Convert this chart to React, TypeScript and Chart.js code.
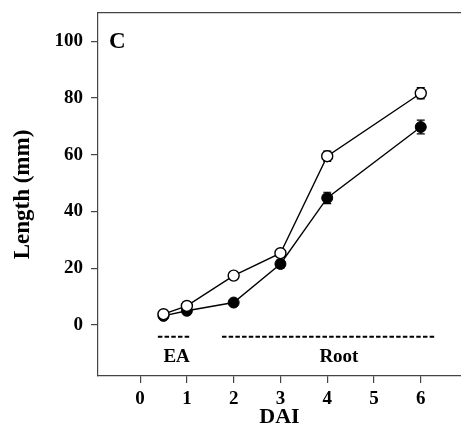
import React, { useEffect, useRef } from "react";
import { Chart, registerables } from "chart.js";

Chart.register(...registerables);

const dai = [0.5, 1, 2, 3, 4, 6];
const openLength = [3.8, 6.7, 17.4, 25.3, 59.5, 81.7];
const openErr = [0.5, 0.6, 0.7, 1.0, 1.8, 2.0];
const filledLength = [3.2, 5.0, 7.9, 21.5, 44.8, 69.8];
const filledErr = [0.4, 0.6, 0.8, 1.5, 2.0, 2.4];
const yTicks = [0, 20, 40, 60, 80, 100];
const xTicks = [0, 1, 2, 3, 4, 5, 6];
const eaRange = [0.38, 1.08];
const rootRange = [1.75, 6.3];
const phaseY = -4.2;
const phaseLabels = [
  { text: "EA", x: 0.78, y: -11.5 },
  { text: "Root", x: 4.25, y: -11.5 },
];
const panelLabel = "C";

const FONT = "'Liberation Serif', 'Times New Roman', serif";

function zeroPad(s: any) {
  s.paddingLeft = 0;
  s.paddingRight = 0;
  s.paddingTop = 0;
  s.paddingBottom = 0;
}

export default function App() {
  const ref = useRef<HTMLCanvasElement | null>(null);

  useEffect(() => {
    const canvas = ref.current;
    if (!canvas) return;

    const errorBars = {
      id: "errorBars",
      beforeDatasetsDraw(chart: any) {
        const ctx = chart.ctx;
        const xs = chart.scales.x;
        const ys = chart.scales.y;
        const sets = [
          { v: filledLength, e: filledErr },
          { v: openLength, e: openErr },
        ];
        ctx.save();
        ctx.strokeStyle = "#000";
        ctx.lineWidth = 1.2;
        sets.forEach((s) => {
          dai.forEach((d, i) => {
            const px = xs.getPixelForValue(d);
            const top = ys.getPixelForValue(s.v[i] + s.e[i]);
            const bot = ys.getPixelForValue(s.v[i] - s.e[i]);
            ctx.beginPath();
            ctx.moveTo(px, top);
            ctx.lineTo(px, bot);
            ctx.moveTo(px - 4, top);
            ctx.lineTo(px + 4, top);
            ctx.moveTo(px - 4, bot);
            ctx.lineTo(px + 4, bot);
            ctx.stroke();
          });
        });
        ctx.restore();
      },
    };

    const textLabels = {
      id: "textLabels",
      afterDraw(chart: any) {
        const ctx = chart.ctx;
        const xs = chart.scales.x;
        const ys = chart.scales.y;
        const area = chart.chartArea;
        ctx.save();
        ctx.fillStyle = "#000";
        ctx.font = `bold 19px ${FONT}`;
        ctx.textAlign = "center";
        ctx.textBaseline = "middle";
        phaseLabels.forEach((l) => {
          ctx.fillText(l.text, xs.getPixelForValue(l.x), ys.getPixelForValue(l.y));
        });
        ctx.font = `bold 23px ${FONT}`;
        ctx.textAlign = "left";
        ctx.textBaseline = "alphabetic";
        ctx.fillText(panelLabel, area.left + 11, area.top + 35);
        ctx.restore();
      },
    };

    const tickFont = { family: FONT, size: 19, weight: "bold" as const };

    const chart = new Chart(canvas, {
      type: "line",
      data: {
        datasets: [
          {
            label: "EA",
            data: eaRange.map((x) => ({ x, y: phaseY })),
            borderColor: "#000",
            borderWidth: 2,
            borderDash: [4.5, 2.2],
            pointRadius: 0,
            fill: false,
          },
          {
            label: "Root",
            data: rootRange.map((x) => ({ x, y: phaseY })),
            borderColor: "#000",
            borderWidth: 2,
            borderDash: [4.5, 2.2],
            pointRadius: 0,
            fill: false,
          },
          {
            label: "filled",
            data: dai.map((x, i) => ({ x, y: filledLength[i] })),
            borderColor: "#000",
            borderWidth: 1.4,
            pointRadius: 5.5,
            pointBackgroundColor: "#000",
            pointBorderColor: "#000",
            pointBorderWidth: 1,
            fill: false,
            order: 2,
          },
          {
            label: "open",
            data: dai.map((x, i) => ({ x, y: openLength[i] })),
            borderColor: "#000",
            borderWidth: 1.4,
            pointRadius: 5.5,
            pointBackgroundColor: "#fff",
            pointBorderColor: "#000",
            pointBorderWidth: 1.4,
            fill: false,
            order: 1,
          },
        ],
      },
      options: {
        responsive: false,
        animation: false,
        devicePixelRatio: 1,
        layout: { padding: 0, autoPadding: false },
        plugins: {
          legend: { display: false },
          tooltip: { enabled: false },
        },
        scales: {
          x: {
            type: "linear",
            position: "bottom",
            min: -0.9,
            max: 6.86,
            afterFit: (s: any) => {
              s.height = 59;
              zeroPad(s);
            },
            afterBuildTicks: (s: any) => {
              s.ticks = xTicks.map((v) => ({ value: v }));
            },
            ticks: {
              includeBounds: false,
              color: "#000",
              font: tickFont,
              padding: 5,
              maxRotation: 0,
              autoSkip: false,
            },
            grid: {
              drawOnChartArea: false,
              drawTicks: true,
              tickLength: 7,
              color: "#444",
              lineWidth: 1.2,
            },
            border: { display: true, color: "#444", width: 1.2 },
            title: {
              display: true,
              text: "DAI",
              color: "#000",
              font: { family: FONT, size: 22, weight: "bold" },
              padding: { top: 0, bottom: 4 },
            },
          },
          xTop: {
            type: "linear",
            position: "top",
            min: -0.9,
            max: 6.86,
            afterFit: (s: any) => {
              s.height = 13;
              zeroPad(s);
            },
            ticks: { display: false },
            grid: { display: false, drawOnChartArea: false, drawTicks: false },
            border: { display: true, color: "#444", width: 1.2 },
          },
          y: {
            type: "linear",
            position: "left",
            min: -18,
            max: 110,
            afterFit: (s: any) => {
              s.width = 98;
              zeroPad(s);
            },
            afterBuildTicks: (s: any) => {
              s.ticks = yTicks.map((v) => ({ value: v }));
            },
            ticks: {
              includeBounds: false,
              color: "#000",
              font: tickFont,
              padding: 8,
              autoSkip: false,
            },
            grid: {
              drawOnChartArea: false,
              drawTicks: true,
              tickLength: 7,
              color: "#444",
              lineWidth: 1.2,
            },
            border: { display: true, color: "#444", width: 1.2 },
            title: {
              display: true,
              text: "Length (mm)",
              color: "#000",
              font: { family: FONT, size: 23, weight: "bold" },
              padding: { top: 9, bottom: 0 },
            },
          },
        },
      },
      plugins: [errorBars, textLabels],
    });

    return () => chart.destroy();
  }, []);

  return (
    <div
      style={{
        position: "fixed",
        left: 0,
        top: 0,
        width: 461,
        height: 435,
        overflow: "hidden",
        background: "#fff",
      }}
    >
      <canvas ref={ref} width={461} height={435} style={{ display: "block" }} />
    </div>
  );
}
